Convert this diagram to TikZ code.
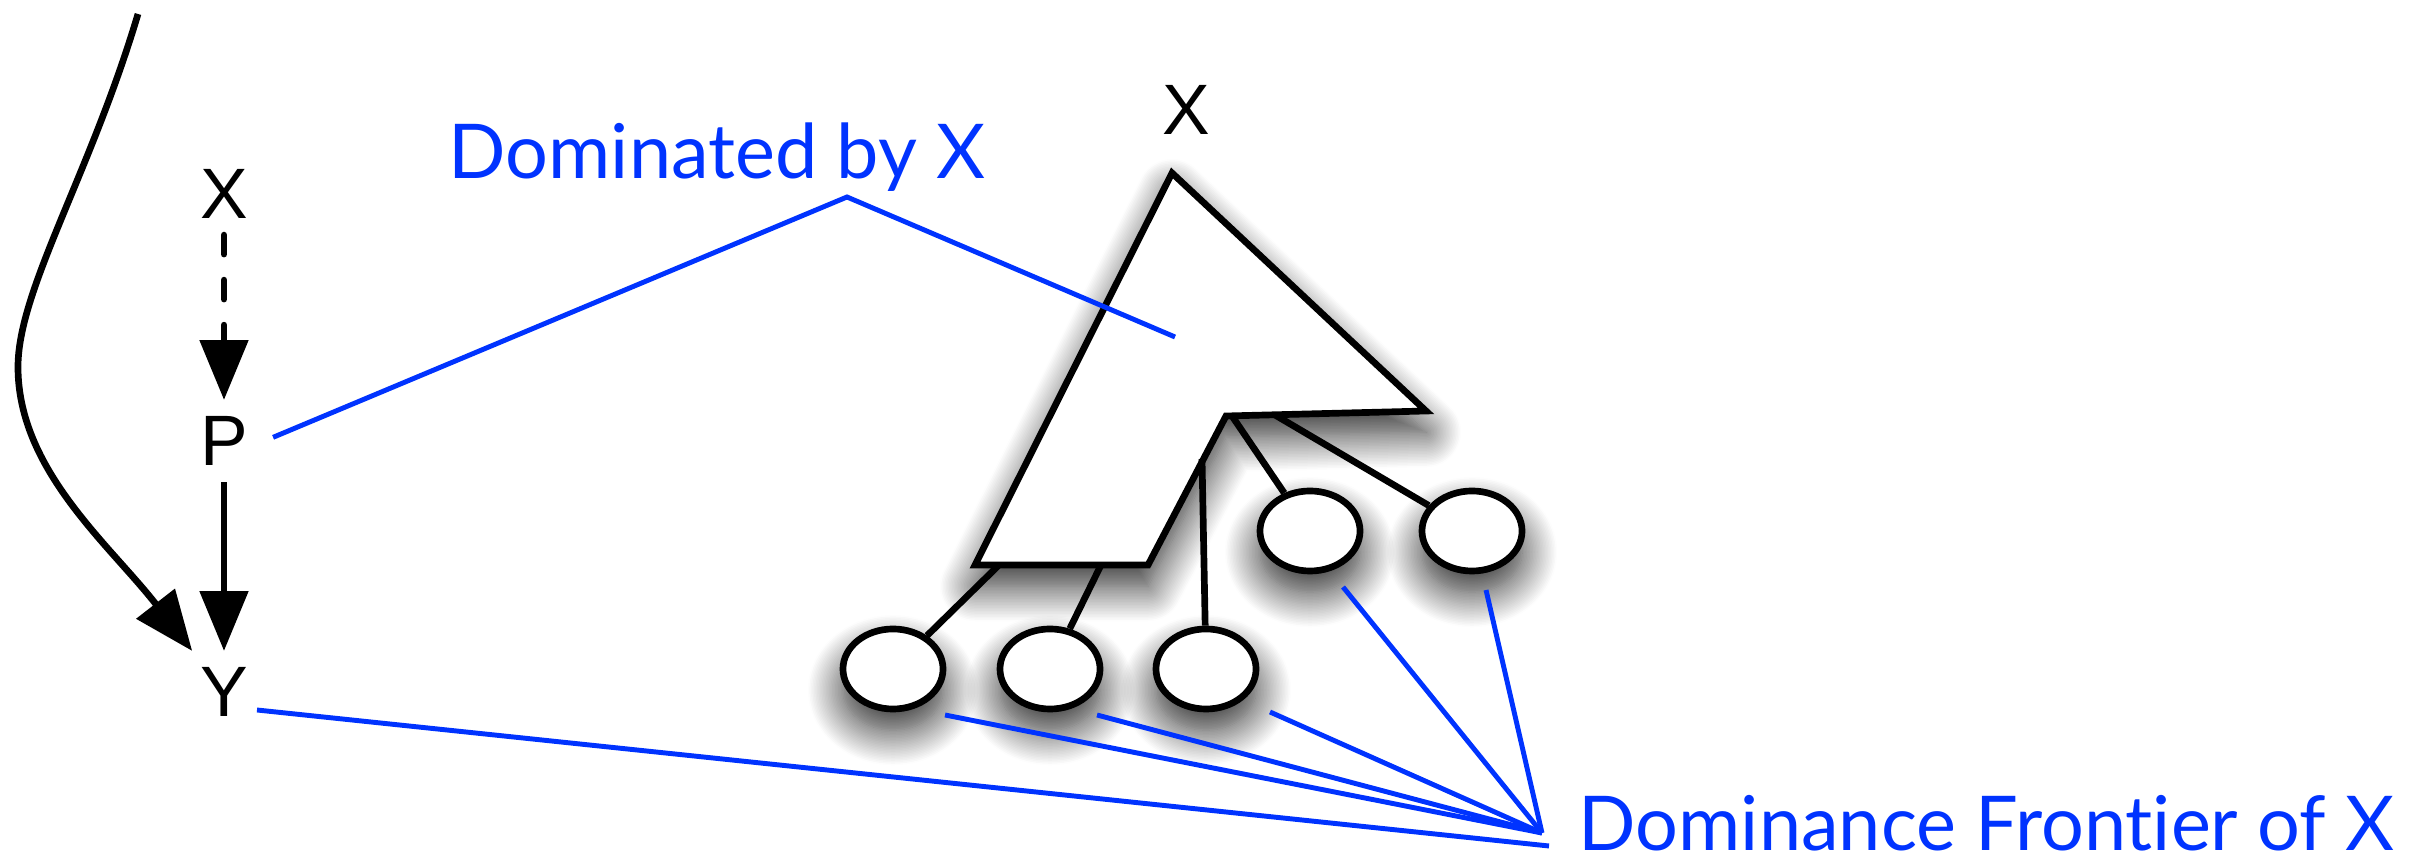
\documentclass[tikz,border=0pt]{standalone}
\usepackage{fontspec}
\setmainfont{Liberation Sans}
\newfontfamily\gillfont[Ligatures=NoCommon]{Lato}
\usetikzlibrary{arrows.meta,shapes.geometric,shadows.blur}
\definecolor{dblue}{RGB}{0,51,255}
\begin{document}
\begin{tikzpicture}[x=0.01cm,y=-0.01cm,
 lbl/.style={font=\fontsize{20.3}{24}\selectfont, inner sep=4.5pt},
 blk/.style={line width=1.9pt},
 arr/.style={blk,-{Triangle[length=17pt,width=13.5pt,fill=black]}},
 bl/.style={draw=dblue,line width=1.4pt},
 btxt/.style={text=dblue,font=\gillfont\fontsize{21.5}{26}\selectfont,inner sep=0pt},
 shad/.style={blur shadow={shadow xshift=0pt,shadow yshift=-6pt,shadow blur radius=10pt,shadow opacity=85,shadow blur steps=24}},
 bub/.style={draw,ellipse,fill=white,line width=1.9pt,minimum width=1.0cm,minimum height=0.8cm,inner sep=0pt,shad}]
\useasboundingbox (0,0) rectangle (2428,865);
% subtree polygon
\coordinate (tA) at (1172,173);
\coordinate (tB) at (1426,411);
\coordinate (tC) at (1226,416);
\coordinate (tD) at (1148,565);
\coordinate (tE) at (975,565);
\draw[blk,fill=white,shad] (tA) -- (tB) -- (tC) -- (tD) -- (tE) -- cycle;
% children
\node[bub] (b1) at (893,669) {};
\node[bub] (b2) at (1050,669) {};
\node[bub] (b3) at (1206,669) {};
\node[bub] (b4) at (1310,531) {};
\node[bub] (b5) at (1472,531) {};
\coordinate (e1) at (999,565);
\coordinate (e2) at (1101,565);
\coordinate (e3) at (1202,459);
\coordinate (e4) at (1232,416);
\coordinate (e5) at (1275,415);
\draw[blk] (e1) -- (b1);
\draw[blk] (e2) -- (b2);
\draw[blk] (e3) -- (b3);
\draw[blk] (e4) -- (b4);
\draw[blk] (e5) -- (b5);
% labels
\node[lbl] (X1) at (224,194) {X};
\node[lbl] (P) at (224,441) {P};
\node[lbl] (Y) at (224,692) {Y};
\node[lbl] (X2) at (1186,110) {X};
\draw[arr,dash pattern=on 0.19cm off 0.26cm,line cap=round] (X1) -- (P);
\draw[arr] (P) -- (Y);
\coordinate (c0) at (138,14);
\draw[arr] (c0) .. controls (90,175) and (18,290) .. (18,367) .. controls (18,470) and (110,545) .. (Y);
% blue annotations
\node[btxt,anchor=base west] (dom) at (448,179) {Dominated by X};
\node[btxt,anchor=base west] (df) at (1578,851) {Dominance Frontier of X};
\coordinate (dv) at (847,197);
\coordinate (dEnd) at (1175,337);
\draw[bl,shorten <=2.7pt] (P.east) -- (dv) -- (dEnd);
\coordinate (fan) at (1542,833);
\coordinate (fanY) at (1549,846);
\coordinate (yA) at (257,710);
\coordinate (f1) at (945,715);
\coordinate (f2) at (1097,715);
\coordinate (f3) at (1270,712);
\coordinate (f4) at (1343,587);
\coordinate (f5) at (1486,590);
\draw[bl] (yA) -- (fanY);
\foreach \s in {f1,f2,f3,f4,f5} \draw[bl] (\s) -- (fan);
\end{tikzpicture}
\end{document}
